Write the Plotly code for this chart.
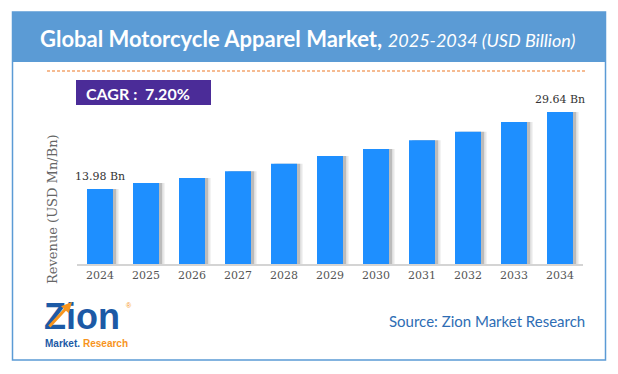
import plotly.graph_objects as go

# page body has an 8px margin, so the figure is sized to fit the 618x374 window
PAGE_W, PAGE_H, OFF = 618, 374, 8
W, H = PAGE_W - OFF, PAGE_H - OFF

years = ["2024", "2025", "2026", "2027", "2028", "2029", "2030", "2031", "2032", "2033", "2034"]
revenue = [13.98, 15.2, 16.2, 17.6, 19.1, 20.7, 22.1, 23.9, 25.6, 27.6, 29.64]
value_labels = ["13.98 Bn", "", "", "", "", "", "", "", "", "", "29.64 Bn"]
title_main = "Global Motorcycle Apparel Market,"
title_sub = "2025-2034 (USD Billion)"
cagr_text = "CAGR :  7.20%"
y_title = "Revenue (USD Mn/Bn)"
source_text = "Source: Zion Market Research"

AX_MIN, AX_MAX = -1.27, 32.08
BAR_W = 0.565
xpos = list(range(len(years)))


def px(x):
    return (x - OFF) / W


def py(y):
    return 1 - (y - OFF) / H


fig = go.Figure()

# soft shadows behind bars
for off, col in [(0.12, "rgba(190,190,190,0.35)"), (0.07, "rgba(120,120,120,0.40)")]:
    fig.add_trace(go.Bar(
        x=[i + off for i in xpos], y=[v - AX_MIN for v in revenue], base=AX_MIN,
        width=BAR_W,
        marker=dict(color=col, line=dict(width=0)),
        hoverinfo="skip", showlegend=False,
    ))

fig.add_trace(go.Bar(
    x=xpos, y=[v - AX_MIN for v in revenue], base=AX_MIN,
    width=BAR_W,
    marker=dict(color="#1E8FFF", line=dict(width=0)),
    showlegend=False,
    customdata=list(zip(years, revenue)),
    hovertemplate="%{customdata[0]}: %{customdata[1]} Bn<extra></extra>",
))

annotations = []
for i, v, lab in zip(xpos, revenue, value_labels):
    if lab:
        annotations.append(dict(
            x=i, y=v, xref="x", yref="y", text=lab, showarrow=False,
            yshift=13, font=dict(family="DejaVu Serif", size=11, color="#333333"),
        ))

shapes = [
    # outer frame
    dict(type="rect", xref="paper", yref="paper", x0=px(12.5), x1=px(605.5), y0=py(360), y1=py(12),
         line=dict(color="#5B9BD5", width=1.5), fillcolor="rgba(0,0,0,0)", layer="below"),
    # header band
    dict(type="rect", xref="paper", yref="paper", x0=px(12), x1=px(606), y0=py(62), y1=py(12),
         line=dict(width=0), fillcolor="#5B9BD5", layer="below"),
    # dashed orange rule
    dict(type="line", xref="paper", yref="paper", x0=px(47), x1=px(586), y0=py(71), y1=py(71),
         line=dict(color="#F4A56E", width=1.5, dash="3px,2px")),
    # CAGR box
    dict(type="rect", xref="paper", yref="paper", x0=px(76), x1=px(211), y0=py(105), y1=py(80),
         line=dict(width=0), fillcolor="#4B2C98"),
]

annotations += [
    dict(xref="paper", yref="paper", x=px(307), y=py(39), showarrow=False,
         text=(f"<b>{title_main}</b> <i><span style='font-size:18px'>{title_sub}</span></i>"),
         font=dict(family="Lato", size=22, color="white"), xanchor="center", yanchor="middle"),
    dict(xref="paper", yref="paper", x=px(138), y=py(93), showarrow=False,
         text=f"<b>{cagr_text}</b>", font=dict(family="Lato", size=16, color="white"),
         xanchor="center", yanchor="middle"),
    dict(xref="paper", yref="paper", x=px(52), y=py(209), showarrow=False, textangle=-90,
         text=y_title, font=dict(family="DejaVu Serif", size=13, color="#666666"),
         xanchor="center", yanchor="middle"),
    dict(xref="paper", yref="paper", x=px(587), y=py(321), showarrow=False,
         text=source_text, font=dict(family="Lato", size=15, color="#2E6DB4"),
         xanchor="right", yanchor="middle"),
    # logo
    dict(xref="paper", yref="paper", x=px(42), y=py(316), showarrow=False,
         text="<b>Zion</b>", font=dict(family="Liberation Sans", size=36, color="#1C5AA6"),
         xanchor="left", yanchor="middle"),
    dict(xref="paper", yref="paper", x=px(43), y=py(343), showarrow=False,
         text="<b>Market.</b>",
         font=dict(family="Liberation Sans", size=10, color="#1C5AA6"),
         xanchor="left", yanchor="middle"),
    dict(xref="paper", yref="paper", x=px(81), y=py(343), showarrow=False,
         text="<b>Research</b>",
         font=dict(family="Liberation Sans", size=10, color="#F7941D"),
         xanchor="left", yanchor="middle"),
    dict(xref="paper", yref="paper", x=px(129), y=py(305), showarrow=False,
         text="®", font=dict(family="Liberation Sans", size=7, color="#F7941D"),
         xanchor="center", yanchor="middle"),
    dict(xref="paper", yref="paper", axref="pixel", ayref="pixel",
         x=px(72), y=py(302), ax=-24, ay=26, showarrow=True,
         arrowcolor="#F7941D", arrowwidth=3, arrowhead=2, arrowsize=0.7, text=""),
]

fig.update_layout(
    width=W, height=H,
    margin=dict(l=0, r=0, t=0, b=0),
    paper_bgcolor="white", plot_bgcolor="white",
    barmode="overlay",
    showlegend=False,
    xaxis=dict(domain=[px(77), px(583)], range=[-0.5, len(years) - 0.5],
               tickvals=xpos, ticktext=years, showgrid=False, zeroline=False,
               showline=True, linecolor="#D4D4D4", linewidth=1.5, ticks="",
               tickfont=dict(family="DejaVu Serif", size=11, color="#555555"), fixedrange=True),
    yaxis=dict(domain=[py(264), py(100)], range=[AX_MIN, AX_MAX], showgrid=False,
               showticklabels=False, zeroline=False, showline=False, fixedrange=True),
    shapes=shapes,
    annotations=annotations,
)

fig.write_html("out.html")
